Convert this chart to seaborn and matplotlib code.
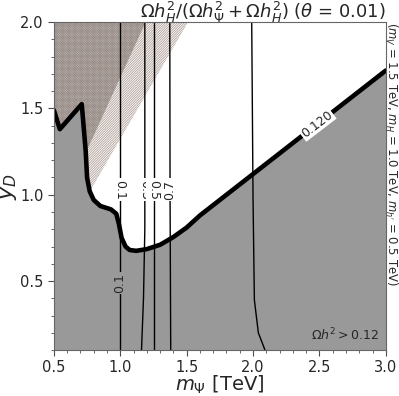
import numpy as np
import matplotlib
matplotlib.use("Agg")
import matplotlib.pyplot as plt
import seaborn as sns

# relic density boundary (Omega h^2 = 0.120)
relic_m = [0.50, 0.545, 0.71, 0.74, 0.75, 0.77, 0.80, 0.85, 0.93, 0.97, 0.99, 1.01, 1.04, 1.07,
           1.12, 1.20, 1.30, 1.40, 1.50, 1.60, 3.00]
relic_y = [1.49, 1.38, 1.525, 1.25, 1.10, 1.02, 0.97, 0.935, 0.915, 0.89, 0.83, 0.75, 0.70, 0.68,
           0.675, 0.685, 0.71, 0.755, 0.81, 0.88, 1.72]

# fraction contours Omega h_H^2 / total
frac_levels = ["0.1", "0.3", "0.5", "0.7", "0.9"]
frac_m = [
    [0.997, 0.997, 0.997],
    [1.185, 1.185, 1.175, 1.16],
    [1.253, 1.253, 1.253],
    [1.373, 1.375, 1.38],
    [1.99, 2.00, 2.01, 2.04, 2.09],
]
frac_y = [
    [2.0, 1.0, 0.1],
    [2.0, 0.8, 0.4, 0.1],
    [2.0, 1.0, 0.1],
    [2.0, 1.0, 0.1],
    [2.0, 0.97, 0.39, 0.2, 0.1],
]

# excluded regions (hatched)
excl_light_m = [0.5, 1.51]
excl_light_y = [0.66, 2.0]
excl_dark_m = [0.5, 1.19]
excl_dark_y = [0.84, 2.0]

sns.set_style("ticks")
plt.rcParams["font.family"] = ["DejaVu Sans"]
plt.rcParams["hatch.linewidth"] = 0.6

fig = plt.figure(figsize=(3.99, 3.96), dpi=100)
ax = fig.add_axes([0.135, 0.116, 0.832, 0.828])

ax.fill_between(excl_light_m, excl_light_y, 2.0, facecolor="white",
                edgecolor="#b0a098", hatch="/" * 14, linewidth=0)
ax.fill_between(excl_dark_m, excl_dark_y, 2.0, facecolor="#c4bcb8",
                edgecolor="#8a807b", hatch="\\" * 14, linewidth=0)
ax.fill_between(excl_dark_m, excl_dark_y, 2.0, facecolor="none",
                edgecolor="#a0948e", hatch="/" * 14, linewidth=0)

ax.fill_between(relic_m, relic_y, 0.1, color="#999999", linewidth=0)

for lev, xs, ys in zip(frac_levels, frac_m, frac_y):
    sns.lineplot(x=xs, y=ys, sort=False, color="black", linewidth=1.0,
                 estimator=None, ax=ax)

sns.lineplot(x=relic_m, y=relic_y, sort=False, color="black", linewidth=3.3,
             estimator=None, ax=ax)

# contour labels
lab_kw = dict(fontsize=9, ha="center", va="center",
              bbox=dict(boxstyle="square,pad=0.1", fc="white", ec="none"))
ax.text(0.997, 1.03, "0.1", rotation=-90, **lab_kw)
ax.text(1.185, 1.03, "0.3", rotation=-90, **lab_kw)
ax.text(1.253, 1.03, "0.5", rotation=-90, **lab_kw)
ax.text(1.373, 1.03, "0.7", rotation=90, **lab_kw)
lab_kw["bbox"] = dict(boxstyle="square,pad=0.1", fc="#999999", ec="none")
ax.text(0.997, 0.49, "0.1", rotation=90, **lab_kw)
lab_kw["bbox"] = dict(boxstyle="square,pad=0.1", fc="white", ec="none")
ax.text(2.48, 1.41, "0.120", rotation=37.5, **lab_kw)

ax.text(2.95, 0.14, r"$\Omega h^2 > 0.12$", fontsize=9, ha="right", va="bottom")

ax.set_xlim(0.5, 3.0)
ax.set_ylim(0.1, 2.0)
ax.set_xticks([0.5, 1.0, 1.5, 2.0, 2.5, 3.0])
ax.set_yticks([0.5, 1.0, 1.5, 2.0])
ax.set_xticks(np.arange(0.5, 3.01, 0.1), minor=True)
ax.set_yticks(np.arange(0.1, 2.01, 0.1), minor=True)
ax.tick_params(labelsize=10.5, length=4, width=0.8, color="0.3")
ax.tick_params(which="minor", length=2, width=0.6, color="0.3")
for s in ax.spines.values():
    s.set_color("0.4")
    s.set_linewidth(0.8)

ax.set_xlabel(r"$m_\Psi$ [TeV]", fontsize=14, labelpad=-1)
ax.set_ylabel(r"$y_D$", fontsize=16, labelpad=1)
ax.text(1.0, 1.012, r"$\Omega h_H^2/(\Omega h_\Psi^2 + \Omega h_H^2)$ ($\theta$ = 0.01)",
        fontsize=13, ha="right", va="baseline", transform=ax.transAxes)
fig.text(0.981, 0.944, r"($m_V$ = 1.5 TeV, $m_H$ = 1.0 TeV, $m_{h'}$ = 0.5 TeV)",
         rotation=-90, fontsize=8.4, ha="center", va="top")

fig.savefig("out.png", dpi=100)
